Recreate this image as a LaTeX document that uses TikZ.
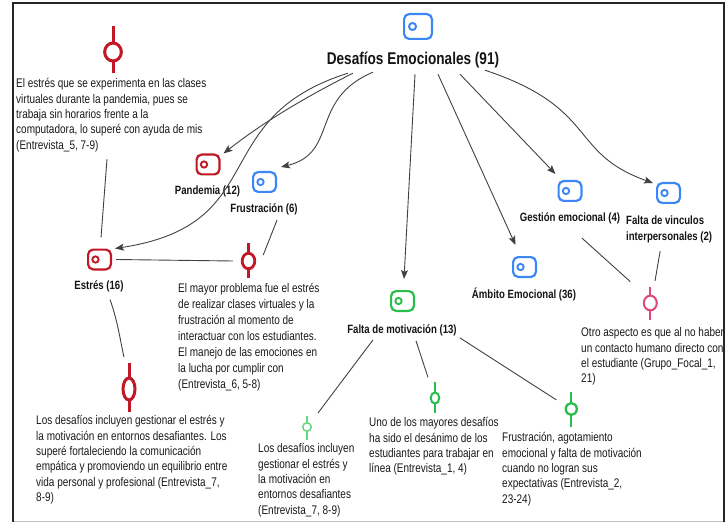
\documentclass[tikz,border=0pt]{standalone}
\usepackage{fontspec}
\setmainfont{Liberation Sans}[FakeStretch=0.8]
\usetikzlibrary{arrows.meta,shapes.geometric}
\definecolor{cred}{RGB}{192,24,36}
\definecolor{cblue}{RGB}{60,135,245}
\definecolor{cgreen}{RGB}{40,190,75}
\definecolor{clgreen}{RGB}{100,215,125}
\definecolor{cpink}{RGB}{225,70,120}
\definecolor{cline}{RGB}{65,65,65}
\definecolor{ctext}{RGB}{25,25,25}
\newcommand\qfont{\fontsize{12.5}{15.4}\selectfont}
\newcommand\qfontb{\fontsize{12.5}{16}\selectfont}
\newcommand\lfont{\fontsize{12}{16}\selectfont\bfseries}
\newcommand\bigfont{\fontsize{17}{20}\selectfont\bfseries}
\newcommand\codeat[5]{%
  \node[codeicon=#4] (#1) at (#2,#3) {};
  \node[codedot=#4] (#1dot) at ([xshift=#5]#1.west) {};}
\begin{document}
\begin{tikzpicture}[x=1pt,y=-1pt,
  codeicon/.style={draw=#1, line width=2.2pt, rounded corners=5pt,
    minimum width=22.8pt, minimum height=19.8pt, inner sep=0pt, fill=white},
  codedot/.style={draw=#1, line width=1.9pt, circle, minimum size=6.3pt, inner sep=0pt},
  qcirc/.style={draw=#1, fill=white, ellipse, inner sep=0pt},
  qline/.style={draw=#1, line width=2.8pt},
  lbl/.style={font=\lfont, text=black!92, inner sep=0pt},
  qtext/.style={font=\qfont, text=ctext, anchor=north west, align=left, inner sep=0pt},
  link/.style={draw=cline, line width=0.9pt},
  arr/.style={link, -{Stealth[length=9pt,width=7pt,inset=2pt]}},
]
\useasboundingbox (0,0) rectangle (726,524);
% frame
\draw[line width=1.5pt, black!25] (13,521.5) -- (724.3,521.5);
\draw[line width=2.2pt, black!85] (13,521.5) -- (13,3) -- (724.3,3) -- (724.3,521.5);

% main code
\node[codeicon=cblue, minimum width=27.8pt, minimum height=24.8pt] (desI) at (418,26.5) {};
\node[codedot=cblue, minimum size=7pt, line width=2pt] (desIdot) at ([xshift=9.5pt]desI.west) {};
\node[font=\bigfont, inner sep=0pt, text=black!92] (des) at (413,60) {Desafíos Emocionales (91)};

% codes
\codeat{pandI}{208}{164.5}{cred}{8.5pt}
\node[lbl] (pandL) at (207.5,191.5) {Pandemia (12)};
\codeat{frusI}{264.5}{182}{cblue}{8.5pt}
\node[lbl] (frusL) at (264,209.3) {Frustración (6)};
\codeat{estI}{99.5}{259.5}{cred}{8.5pt}
\node[lbl] (estL) at (99,286.7) {Estrés (16)};
\codeat{fmI}{402.5}{301}{cgreen}{8.5pt}
\node[lbl] (fmL) at (402,330) {Falta de motivación (13)};
\codeat{ambI}{524.5}{267}{cblue}{8.5pt}
\node[lbl] (ambL) at (524,294) {Ámbito Emocional (36)};
\codeat{gesI}{570}{191}{cblue}{8.5pt}
\node[lbl] (gesL) at (570,218.3) {Gestión emocional (4)};
\codeat{fvI}{668.5}{193}{cblue}{8.5pt}
\node[lbl, anchor=north west, align=left] (fvL) at (626,213.1) {\strut Falta de vinculos\\interpersonales (2)};

% quotation icons
\draw[qline=cred, line width=3pt] (113,26) -- (113,73);
\node[qcirc=cred, line width=3pt, minimum width=16.7pt, minimum height=18pt] (q1) at (113,52) {};
\draw[qline=cred] (248.5,243) -- (248.5,278);
\node[qcirc=cred, line width=2.8pt, minimum width=12.6pt, minimum height=15.5pt] (q2) at (248.5,261) {};
\draw[qline=cred, line width=3pt] (129,363) -- (129,412);
\node[qcirc=cred, line width=3pt, minimum width=12pt, minimum height=22pt] (q3) at (129,389) {};
\draw[qline=clgreen, line width=1.5pt] (307,416) -- (307,440);
\node[qcirc=clgreen, line width=1.5pt, minimum width=8.5pt, minimum height=8.5pt] (g1) at (307,427) {};
\draw[qline=cgreen, line width=2pt] (435,382) -- (435,413);
\node[qcirc=cgreen, line width=2pt, minimum width=8.6pt, minimum height=11.3pt] (g2) at (435,398) {};
\draw[qline=cgreen, line width=2.3pt] (571.3,392) -- (571.3,427);
\node[qcirc=cgreen, line width=2.3pt, minimum width=11pt, minimum height=12pt] (g3) at (571.3,409) {};
\draw[qline=cpink, line width=2pt] (650.3,287) -- (650.3,320);
\node[qcirc=cpink, line width=2pt, minimum width=13pt, minimum height=14.7pt] (pk) at (650.3,303) {};

% quotation texts
\node[qtext] (t1) at (16,76.8) {\strut El estrés que se experimenta en las clases\\virtuales durante la pandemia, pues se\\trabaja sin horarios frente a la\\computadora, lo superé con ayuda de mis\\(Entrevista\_5, 7-9)};
\node[qtext, font=\qfontb] (t2) at (178,280.8) {\strut El mayor problema fue el estrés\\de realizar clases virtuales y la\\frustración al momento de\\interactuar con los estudiantes.\\El manejo de las emociones en\\la lucha por cumplir con\\(Entrevista\_6, 5-8)};
\node[qtext] (t3) at (36,413.8) {\strut Los desafíos incluyen gestionar el estrés y\\la motivación en entornos desafiantes. Los\\superé fortaleciendo la comunicación\\empática y promoviendo un equilibrio entre\\vida personal y profesional (Entrevista\_7,\\8-9)};
\node[qtext] (t4) at (258,441.8) {\strut Los desafíos incluyen\\gestionar el estrés y\\la motivación en\\entornos desafiantes\\(Entrevista\_7, 8-9)};
\node[qtext] (t5) at (581,325.8) {\strut Otro aspecto es que al no haber\\un contacto humano directo con\\el estudiante (Grupo\_Focal\_1,\\21)};
\node[qtext] (t6) at (369,415.8) {\strut Uno de los mayores desafíos\\ha sido el desánimo de los\\estudiantes para trabajar en\\línea (Entrevista\_1, 4)};
\node[qtext] (t7) at (502,430.8) {\strut Frustración, agotamiento\\emocional y falta de motivación\\cuando no logran sus\\expectativas (Entrevista\_2,\\23-24)};

% arrows from main code
\draw[arr] ([shift={(-60,5)}]des.south) .. controls +(-48,24) and +(38,-30) .. ([shift={(3,0)}]pandI.north east);
\draw[arr] ([shift={(-65,5)}]des.south) .. controls +(-143,45) and +(158,-24) .. ([shift={(3,0)}]estI.north east);
\draw[arr] ([shift={(-40,4)}]des.south) .. controls +(-64,27) and +(58,-14) .. ([shift={(4,-4)}]frusI.north east);
\draw[arr] ([shift={(2,6)}]des.south) -- ([shift={(1.5,-11)}]fmI.north);
\draw[arr] ([shift={(25,6)}]des.south) -- ([shift={(-9,-11)}]ambI.north);
\draw[arr] ([shift={(47,6)}]des.south) -- ([shift={(-2,-6)}]gesI.north west);
\draw[arr] ([shift={(72,2)}]des.south) .. controls +(114,38) and +(-85,-30) .. ([shift={(-3,1)}]fvI.north west);

% links
\draw[link] ([shift={(91,7)}]t1.south west) -- ([shift={(1.5,-11)}]estI.north);
\draw[link] ([xshift=-8pt]q2.west) -- ([xshift=4pt]estI.east);
\draw[link] ([shift={(13,5)}]frusL.south) -- ([shift={(14.7,3.2)}]q2.north);
\draw[link] ([shift={(11,7)}]estL.south) .. controls +(8,22) and +(-3,-12) .. ([shift={(-5,-19.5)}]q3.north);
\draw[link] ([shift={(-29,4)}]fmL.south) -- ([shift={(11,-9)}]g1.north);
\draw[link] ([shift={(14,5)}]fmL.south) -- ([shift={(-7,-14)}]g2.north);
\draw[link] ([shift={(3,2)}]fmL.south east) -- ([shift={(-15,-2)}]g3.north);
\draw[link] ([shift={(12,14)}]gesL.south) -- ([shift={(-20,-13)}]pk.north);
\draw[link] ([shift={(-9,8)}]fvL.south) -- ([shift={(4.7,-13.7)}]pk.north);
\end{tikzpicture}
\end{document}
